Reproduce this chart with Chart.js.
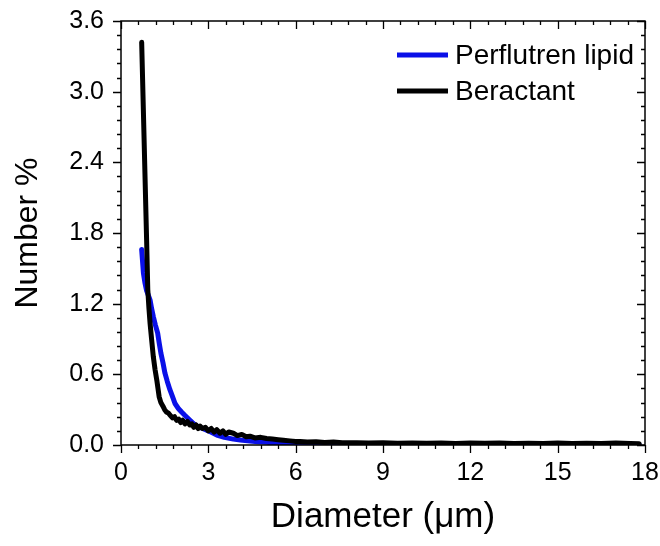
<!DOCTYPE html>
<html>
<head>
<meta charset="utf-8">
<script src="https://cdn.jsdelivr.net/npm/chart.js@4.4.1/dist/chart.umd.min.js"></script>
<style>
  html, body { margin: 0; padding: 0; background: #fff; }
  canvas { display: block; }
</style>
</head>
<body>
<canvas id="c" width="660" height="546"></canvas>
<script>
// ---- Data ----
const seriesNames = ['Perflutren lipid', 'Beractant'];
const seriesColors = ['#0a10e8', '#000000'];

const diameterPerflutren = [
  0.71,0.74,0.77,0.82,0.88,0.94,1.00,1.05,1.11,1.18,
  1.26,1.31,1.37,1.44,1.51,1.59,1.68,1.77,1.86,1.97,
  2.08,2.20,2.37,2.50,2.66,2.80,3.00,3.29,3.55,3.86,
  4.10,4.43,4.70,5.00,5.30,5.58,6.00,6.50,7.00,8.00,
  9,10,11,12,13,14,15,16,17,17.8
];
const numberPerflutren = [
  1.66,1.56,1.46,1.38,1.31,1.27,1.23,1.16,1.09,1.02,
  0.95,0.87,0.78,0.70,0.61,0.54,0.47,0.41,0.35,0.31,
  0.28,0.25,0.21,0.18,0.155,0.14,0.12,0.085,0.065,0.05,
  0.042,0.034,0.028,0.023,0.016,0.010,0.007,0.005,0.004,0.003,
  0.003,0.002,0.002,0.002,0.002,0.002,0.002,0.002,0.002,0.002
];

const diameterBeractant = [
  0.71,0.88,0.92,0.96,1.00,
  1.05,1.11,1.17,1.23,1.27,1.31,1.37,1.44,1.50,1.56,
  1.63,1.70,1.77,1.84,1.91,1.98,2.05,2.12,2.20,2.28,
  2.36,2.43,2.50,2.58,2.65,2.72,2.80,2.90,3.00,3.10,
  3.20,3.29,3.40,3.50,3.60,3.70,3.86,4.00,4.15,4.30,
  4.43,4.60,4.80,5.00,5.20,5.40,5.58,5.80,6.00,6.15,
  6.40,6.70,7.00,7.30,7.60,8.10,8.50,9.00,9.50,10.0,
  10.5,11.0,11.5,12.0,12.5,13.0,13.5,14.0,14.5,15.0,
  15.5,16.0,16.5,17.0,17.5,17.8
];
const numberBeractant = [
  3.42,1.74,1.32,1.16,1.03,
  0.90,0.75,0.64,0.55,0.48,0.41,0.36,0.33,0.30,0.28,
  0.27,0.25,0.23,0.24,0.21,0.22,0.19,0.21,0.18,0.20,
  0.17,0.18,0.15,0.17,0.14,0.16,0.14,0.15,0.12,0.14,
  0.11,0.13,0.10,0.12,0.09,0.11,0.10,0.08,0.09,0.07,
  0.075,0.06,0.065,0.055,0.05,0.045,0.04,0.035,0.03,0.03,
  0.025,0.028,0.022,0.025,0.02,0.02,0.018,0.02,0.015,0.018,
  0.014,0.016,0.013,0.017,0.014,0.016,0.012,0.015,0.013,0.016,
  0.012,0.014,0.012,0.018,0.013,0.01
];

const xTicks = [0, 3, 6, 9, 12, 15, 18];
const yTicks = [0, 0.6, 1.2, 1.8, 2.4, 3.0, 3.6];
const xMinorPerMajor = 5;
const yMinorPerMajor = 5;
const xTitle = 'Diameter (\u03bcm)';
const yTitle = 'Number %';

const FONT = "'Liberation Sans', Arial, sans-serif";

const toPoints = (xs, ys) => xs.map((v, i) => ({ x: v, y: ys[i] }));

// frame + ticks on all four sides (Origin style)
const frameTicks = {
  id: 'frameTicks',
  afterDraw(chart) {
    const { ctx, chartArea: a, scales: { x, y } } = chart;
    ctx.save();
    ctx.strokeStyle = '#000';
    ctx.lineWidth = 1.5;
    ctx.strokeRect(a.left, a.top, a.right - a.left, a.bottom - a.top);
    ctx.lineWidth = 1.3;
    ctx.beginPath();
    for (let i = 0; i < xTicks.length; i++) {
      const v0 = xTicks[i];
      const last = i === xTicks.length - 1;
      const steps = last ? 1 : xMinorPerMajor;
      const dv = last ? 0 : (xTicks[i + 1] - v0) / xMinorPerMajor;
      for (let k = 0; k < steps; k++) {
        const px = Math.round(x.getPixelForValue(v0 + k * dv)) + 0.5;
        const len = k === 0 ? 8 : 4;
        ctx.moveTo(px, a.bottom); ctx.lineTo(px, a.bottom + len);
        ctx.moveTo(px, a.top); ctx.lineTo(px, a.top + len);
      }
    }
    for (let i = 0; i < yTicks.length; i++) {
      const v0 = yTicks[i];
      const last = i === yTicks.length - 1;
      const steps = last ? 1 : yMinorPerMajor;
      const dv = last ? 0 : (yTicks[i + 1] - v0) / yMinorPerMajor;
      for (let k = 0; k < steps; k++) {
        const py = Math.round(y.getPixelForValue(v0 + k * dv)) + 0.5;
        const len = k === 0 ? 8 : 4;
        ctx.moveTo(a.left - len, py); ctx.lineTo(a.left, py);
        ctx.moveTo(a.right - len, py); ctx.lineTo(a.right, py);
      }
    }
    ctx.stroke();
    ctx.restore();
  }
};

// legend inside the plot, top right
const insideLegend = {
  id: 'insideLegend',
  afterDraw(chart) {
    const { ctx, chartArea: a } = chart;
    ctx.save();
    ctx.font = '28px ' + FONT;
    ctx.textBaseline = 'middle';
    ctx.textAlign = 'left';
    const x0 = a.left + 276, x1 = a.left + 327, tx = a.left + 334;
    chart.data.datasets.forEach((ds, i) => {
      const yy = a.top + 34 + i * 36;
      ctx.strokeStyle = ds.borderColor;
      ctx.lineWidth = 5;
      ctx.beginPath(); ctx.moveTo(x0, yy); ctx.lineTo(x1, yy); ctx.stroke();
      ctx.fillStyle = '#000';
      ctx.fillText(ds.label, tx, yy + 1);
    });
    ctx.restore();
  }
};

new Chart(document.getElementById('c'), {
  type: 'scatter',
  data: {
    datasets: [
      { label: seriesNames[0], data: toPoints(diameterPerflutren, numberPerflutren),
        borderColor: seriesColors[0], backgroundColor: seriesColors[0],
        showLine: true, pointRadius: 0, borderWidth: 5, order: 1, tension: 0,
        borderJoinStyle: 'round', borderCapStyle: 'round' },
      { label: seriesNames[1], data: toPoints(diameterBeractant, numberBeractant),
        borderColor: seriesColors[1], backgroundColor: seriesColors[1],
        showLine: true, pointRadius: 0, borderWidth: 5, order: 0, tension: 0,
        borderJoinStyle: 'round', borderCapStyle: 'round' }
    ]
  },
  options: {
    responsive: false,
    animation: false,
    events: [],
    layout: { padding: { left: 0, top: 21, right: 15, bottom: 0 } },
    plugins: { legend: { display: false }, tooltip: { enabled: false } },
    scales: {
      x: {
        type: 'linear', min: 0, max: 18,
        afterBuildTicks: s => { s.ticks = xTicks.map(v => ({ value: v })); },
        afterFit: s => { s.height = 101; s.paddingLeft = 0; s.paddingRight = 0; },
        grid: { display: false }, border: { display: false },
        ticks: { color: '#000', font: { family: FONT, size: 25 }, padding: 5,
                 maxRotation: 0, autoSkip: false, callback: v => String(v) },
        title: { display: true, text: xTitle, color: '#000',
                 font: { family: FONT, size: 35 }, padding: { top: 0, bottom: 8 } }
      },
      y: {
        type: 'linear', min: 0, max: 3.6,
        afterBuildTicks: s => { s.ticks = yTicks.map(v => ({ value: v })); },
        afterFit: s => { s.width = 121; s.paddingTop = 0; s.paddingBottom = 0; },
        grid: { display: false }, border: { display: false },
        ticks: { color: '#000', font: { family: FONT, size: 25 }, padding: 9,
                 autoSkip: false, callback: v => Number(v).toFixed(1) },
        title: { display: true, text: yTitle, color: '#000',
                 font: { family: FONT, size: 32 }, padding: { top: 9, bottom: 0 } }
      }
    }
  },
  plugins: [frameTicks, insideLegend]
});
</script>
</body>
</html>
